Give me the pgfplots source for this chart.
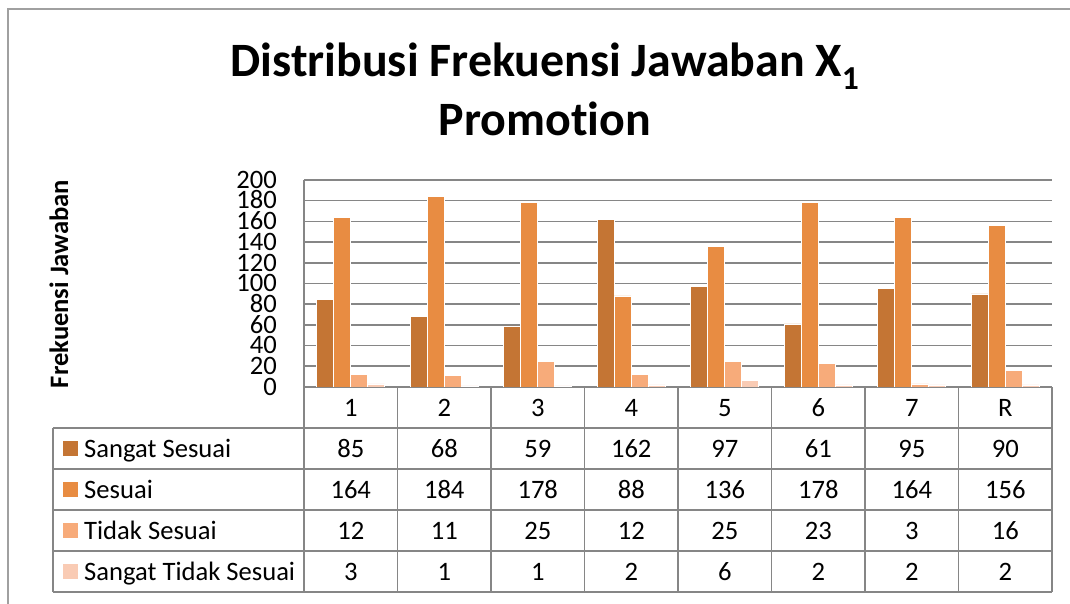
\documentclass[border=0pt]{standalone}
\usepackage{fontspec}
\setmainfont{Carlito}[Ligatures=NoCommon]
\usepackage{pgfplots}
\usepackage{pgfplotstable}
\pgfplotsset{compat=1.18}
\definecolor{cSS}{RGB}{196,117,52}
\definecolor{cS}{RGB}{232,140,66}
\definecolor{cTS}{RGB}{247,171,122}
\definecolor{cSTS}{RGB}{249,203,180}
\definecolor{gridc}{RGB}{134,134,134}
\definecolor{framec}{RGB}{160,160,160}
\newcommand\bodyfont{\fontsize{26.6bp}{32bp}\selectfont}
\newcommand\titlefont{\fontsize{47.9bp}{58bp}\selectfont\bfseries}

\pgfplotstableread{
x SS S TS STS
0 85 164 12 3
1 68 184 11 1
2 59 178 25 1
3 162 88 12 2
4 97 136 25 6
5 61 178 23 2
6 95 164 3 2
7 90 156 16 2
}\datatable

\begin{document}
\begin{tikzpicture}
\path[use as bounding box] (-304bp,-217bp) rectangle (766bp,387bp);
\draw[framec, line width=2bp] (-296bp,-217bp) -- (-296bp,378bp) -- (766bp,378bp);
\begin{axis}[
  at={(0,0)}, anchor=south west,
  scale only axis, width=748bp, height=207bp,
  xmin=-0.5, xmax=7.5, ymin=0, ymax=200,
  ytick={0,20,...,200},
  xtick={0,...,7}, xticklabels={1,2,3,4,5,6,7,R},
  ymajorgrids, grid style={gridc, line width=1.6bp},
  axis line style={draw=none},
  major tick length=0pt,
  ybar=0pt, bar width=17bp,
  /pgf/number format/assume math mode=true,
  tick label style={font=\bodyfont, text=black},
  yticklabel style={anchor=east, inner sep=0pt, xshift=-27bp, text height=16.5bp, text depth=0pt},
  xticklabel style={anchor=base, inner sep=0pt, yshift=-29bp},
  every axis plot/.append style={draw=white, line width=0.6bp},
]
\addplot[fill=cSS] table[x=x,y=SS]{\datatable};
\addplot[fill=cS] table[x=x,y=S]{\datatable};
\addplot[fill=cTS] table[x=x,y=TS]{\datatable};
\addplot[fill=cSTS] table[x=x,y=STS]{\datatable};
\end{axis}
\begin{scope}[x=1bp,y=1bp]
  % title
  \node[anchor=base, font=\titlefont] at (241,311) {Distribusi Frekuensi Jawaban X\textsubscript{1}};
  \node[anchor=base, font=\titlefont] at (241,252) {Promot\kern0pt ion};
  % y label
  \node[anchor=base, rotate=90, font=\bodyfont\bfseries] at (-236,103) {Frekuensi Jawaban};
  % table lines
  \draw[gridc, line width=1.6bp] (0,207) -- (0,-205);
  \foreach \k in {1,...,8} \draw[gridc, line width=1.6bp] (93.5*\k,0) -- (93.5*\k,-205);
  \foreach \yy in {-41,-82,-123,-164,-205} \draw[gridc, line width=1.6bp] (-251,\yy) -- (748,\yy);
  \draw[gridc, line width=1.6bp] (-251,-41) -- (-251,-205);
  % legend column
  \foreach \c/\r/\lab in {cSS/1/Sangat Sesuai, cS/2/Sesuai, cTS/3/Tidak Sesuai, cSTS/4/Sangat Tidak Sesuai} {
    \fill[\c] (-241,-41*\r-28) rectangle (-226,-41*\r-13);
    \node[anchor=base west, inner sep=0pt, font=\bodyfont] at (-220,-41*\r-29) {\lab};
  }
  % values
  \foreach \k in {0,...,7} {
    \foreach \c/\r in {SS/1,S/2,TS/3,STS/4} {
      \pgfplotstablegetelem{\k}{\c}\of\datatable
      \node[anchor=base, inner sep=0pt, font=\bodyfont] at (93.5*\k+46.75,-41*\r-29) {\pgfplotsretval};
    }
  }
\end{scope}
\end{tikzpicture}
\end{document}
